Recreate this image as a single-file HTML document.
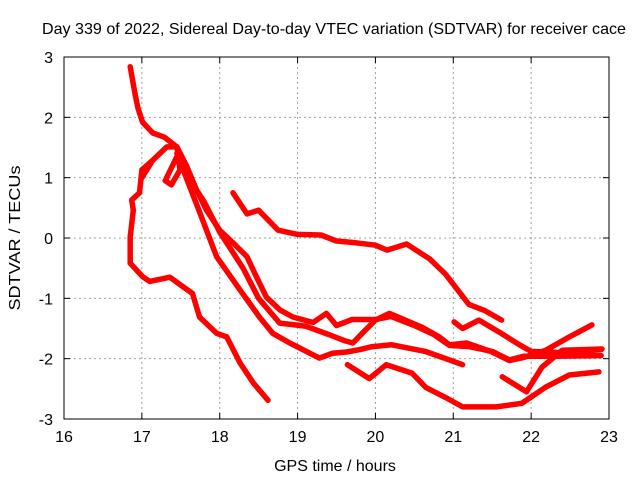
<!DOCTYPE html>
<html><head><meta charset="utf-8"><style>
body{margin:0;background:#fff}
svg text{font-family:"Liberation Sans",sans-serif;font-size:16px;fill:#000}
</style></head><body>
<svg id="chart" width="640" height="480" viewBox="0 0 640 480" xmlns="http://www.w3.org/2000/svg">
<rect width="640" height="480" fill="#fff"/>
<text x="334" y="34" text-anchor="middle" textLength="584" lengthAdjust="spacingAndGlyphs">Day 339 of 2022, Sidereal Day-to-day VTEC variation (SDTVAR) for receiver cace</text>
<g id="grid"></g>
<g id="series"></g>
<rect x="64" y="57" width="545" height="362" fill="none" stroke="#000" stroke-width="1"/>
<g id="ticks"></g>
<text x="335" y="471" text-anchor="middle">GPS time / hours</text>
<text transform="translate(20,238) rotate(-90)" text-anchor="middle" textLength="145" lengthAdjust="spacingAndGlyphs">SDTVAR / TECUs</text>
</svg>
<script>
const xTicks=[16,17,18,19,20,21,22,23];
const yTicks=[-3,-2,-1,0,1,2,3];
const sTop=[[16.85,2.84],[16.91,2.4],[16.95,2.15],[17.01,1.92],[17.14,1.74],[17.29,1.67],[17.45,1.51],[17.58,1.18],[17.7,0.8],[17.83,0.46],[18.0,0.13],[18.17,-0.08],[18.35,-0.31],[18.47,-0.64],[18.6,-0.98],[18.77,-1.19],[18.94,-1.31],[19.2,-1.4],[19.37,-1.25],[19.5,-1.45],[19.7,-1.35],[20.0,-1.35],[20.2,-1.3],[20.5,-1.45],[20.75,-1.6],[20.95,-1.78],[21.2,-1.8],[21.5,-1.88],[21.72,-2.02],[21.9,-1.96],[22.3,-1.96],[22.9,-1.95]];
const sLoop=[[17.14,1.29],[17.0,1.13],[16.97,0.75],[16.87,0.63],[16.89,0.46],[16.85,0.02],[16.85,-0.42],[17.01,-0.64],[17.1,-0.72],[17.36,-0.65],[17.5,-0.78],[17.65,-0.92],[17.74,-1.31],[17.96,-1.58],[18.09,-1.64],[18.26,-2.07],[18.43,-2.4],[18.62,-2.69]];
const sLoopTop=[[17.0,1.0],[17.14,1.29],[17.32,1.51],[17.45,1.51],[17.49,1.13],[17.38,0.88],[17.3,0.95],[17.45,1.35],[17.58,1.1]];
const sLower=[[17.45,1.4],[17.6,0.9],[17.75,0.4],[17.96,-0.31],[18.26,-0.86],[18.51,-1.31],[18.68,-1.58],[18.9,-1.74],[19.28,-1.99],[19.45,-1.91],[19.63,-1.89],[19.8,-1.85],[19.96,-1.8],[20.21,-1.77],[20.64,-1.88],[21.12,-2.1]];
const sMid=[[17.6,1.0],[17.8,0.6],[18.0,0.1],[18.3,-0.5],[18.5,-1.0],[18.77,-1.41],[19.1,-1.46],[19.4,-1.6],[19.6,-1.7],[19.71,-1.74],[19.83,-1.58],[20.0,-1.36],[20.18,-1.25],[20.6,-1.48],[20.82,-1.64],[20.95,-1.77],[21.17,-1.74],[21.5,-1.89],[21.72,-2.03],[21.9,-1.98],[22.19,-1.86],[22.49,-1.64],[22.78,-1.44]];
const sUpper=[[18.17,0.75],[18.35,0.4],[18.5,0.46],[18.75,0.13],[19.0,0.06],[19.3,0.05],[19.5,-0.05],[19.75,-0.08],[20.0,-0.12],[20.15,-0.2],[20.4,-0.1],[20.7,-0.35],[20.9,-0.6],[21.05,-0.85],[21.2,-1.1],[21.4,-1.2],[21.62,-1.36]];
const sLate=[[21.01,-1.39],[21.12,-1.5],[21.33,-1.36],[21.59,-1.56],[21.85,-1.77],[22.0,-1.88],[22.4,-1.9],[22.9,-1.85]];
const sBottom=[[19.64,-2.1],[19.92,-2.33],[20.14,-2.1],[20.47,-2.24],[20.65,-2.48],[20.91,-2.65],[21.12,-2.8],[21.55,-2.8],[21.88,-2.74],[22.19,-2.47],[22.49,-2.27],[22.87,-2.22]];
const sDip=[[21.63,-2.3],[21.94,-2.55],[22.14,-2.14],[22.4,-1.86],[22.91,-1.84]];
const allSeries=[sTop,sLoop,sLoopTop,sLower,sMid,sUpper,sLate,sBottom,sDip];
const seriesNames=['series-top','series-loop','series-loop-top','series-lower','series-mid','series-upper','series-late','series-bottom','series-dip'];
const X0=64,X1=609,Y0=419,Y1=57;
function xs(v){return X0+(v-16)/(23-16)*(X1-X0);}
function ys(v){return Y0-(v+3)/6*(Y0-Y1);}
const NS='http://www.w3.org/2000/svg';
const grid=document.getElementById('grid'),ticks=document.getElementById('ticks'),sg=document.getElementById('series');
function mk(t,a,p){const e=document.createElementNS(NS,t);for(const k in a)e.setAttribute(k,a[k]);p.appendChild(e);return e;}
xTicks.forEach(v=>{const x=xs(v);
 if(v>16&&v<23){const g=mk('line',{x1:x,x2:x,y1:Y1,y2:Y0,stroke:'#a0a0a0','stroke-dasharray':'2,3'},grid);
 
 }
 const t1=mk('line',{x1:x,x2:x,y1:Y0,y2:Y0-6,stroke:'#000'},ticks);
 
 
 const t2=mk('line',{x1:x,x2:x,y1:Y1,y2:Y1+6,stroke:'#000'},ticks);
 
 
 const l=mk('text',{x:x,y:442,'text-anchor':'middle'},ticks);l.textContent=v;
 
 
});
yTicks.forEach(v=>{const y=ys(v);
 if(v>-3&&v<3){const g=mk('line',{x1:X0,x2:X1,y1:y,y2:y,stroke:'#a0a0a0','stroke-dasharray':'2,3'},grid);
 
 }
 const t1=mk('line',{x1:X0,x2:X0+6,y1:y,y2:y,stroke:'#000'},ticks);
 
 
 const t2=mk('line',{x1:X1,x2:X1-6,y1:y,y2:y,stroke:'#000'},ticks);
 
 
 const l=mk('text',{x:53,y:y+6,'text-anchor':'end'},ticks);l.textContent=v;
 
 
});
allSeries.forEach((s,i)=>{
 const p=mk('polyline',{points:s.map(d=>xs(d[0]).toFixed(1)+','+ys(d[1]).toFixed(1)).join(' '),fill:'none',stroke:'#ff0000','stroke-width':5.5,'stroke-linejoin':'round','stroke-linecap':'round'},sg);
 
 
});
</script>
</body></html>
